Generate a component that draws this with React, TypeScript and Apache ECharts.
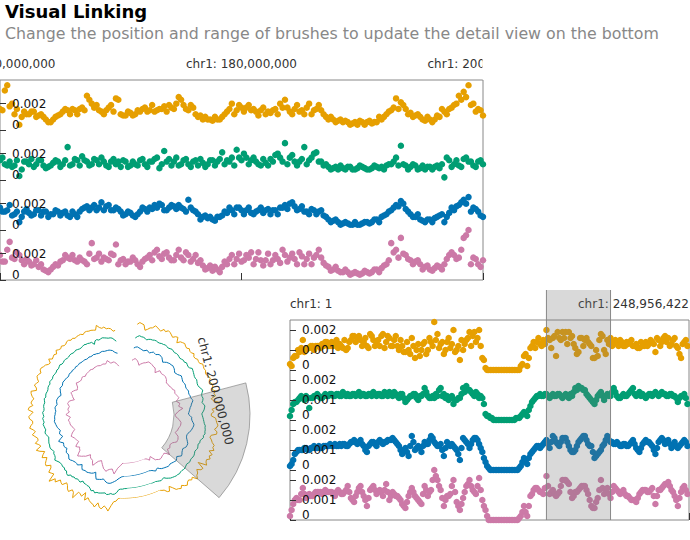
import React, { useEffect, useRef } from "react";
import * as echarts from "echarts";

const CHR1_LENGTH = 248956422;
const COLORS = ["#E69F00", "#009E73", "#0072B2", "#CC79A7"];
const VALUE_UNIT = 1e-4; // track values below are written in units of 1e-4

// zoomed view (top): chr1 160-200 Mb, 0.4 Mb bins (+ the points half a bin later)
const ZOOM_START = 160000000;
const ZOOM_END = 200000000;
const ZOOM_BIN = 400000;
const ZOOM_TICKS = [160000000, 180000000, 200000000];
const ZOOM_ORANGE = [
  16, 30, 18, 12, 4, 14, 12, 14, 11, 10, 6, 8, 11, 14, 15, 16, 12, 17, 26, 20,
  19, 14, 15, 19, 24, 12, 11, 13, 12, 14, 17, 15, 14, 16, 18, 19, 16, 25, 19, 15,
  17, 10, 8, 8, 7, 8, 10, 14, 20, 15, 17, 17, 15, 14, 15, 12, 13, 16, 20, 23,
  14, 16, 14, 12, 20, 15, 19, 12, 8, 8, 7, 6, 6, 5, 4, 6, 6, 5, 6, 8,
  12, 15, 24, 21, 16, 13, 11, 10, 7, 8, 8, 10, 14, 16, 19, 26, 29, 34, 20, 16, 11,
];
const ZOOM_ORANGE_MID = [
  15, 34, 20, 16, 10, 12, 14, 10, 12, 8, 6, 10, 12, 16, 12, 15, 16, 15, 23, 17,
  15, 12, 17, 14, 23, 11, 14, 11, 15, 16, 14, 19, 15, 16, 14, 17, 20, 23, 16, 19,
  12, 11, 10, 8, 10, 8, 12, 16, 12, 19, 14, 19, 16, 11, 17, 14, 15, 12, 17, 17,
  12, 19, 15, 17, 12, 16, 15, 10, 10, 6, 8, 7, 4, 6, 7, 4, 7, 6, 10, 10,
  14, 17, 16, 19, 12, 10, 12, 8, 10, 6, 11, 16, 12, 17, 20, 23, 25, 19, 14, 15,
];
const ZOOM_GREEN = [
  15, 12, 14, 11, 3, 14, 12, 10, 15, 11, 10, 13, 14, 12, 25, 12, 15, 18, 14, 12,
  15, 17, 11, 14, 12, 10, 14, 11, 12, 15, 12, 14, 16, 9, 22, 16, 14, 11, 15, 12,
  14, 11, 13, 12, 15, 14, 21, 15, 17, 23, 15, 17, 15, 14, 11, 13, 16, 19, 17, 28,
  17, 14, 14, 25, 15, 20, 14, 11, 10, 9, 8, 9, 10, 8, 9, 10, 8, 9, 10, 10,
  11, 12, 17, 26, 11, 10, 11, 9, 8, 10, 10, 9, 2, 15, 12, 11, 16, 14, 11, 14, 12,
];
const ZOOM_GREEN_MID = [
  17, 11, 10, 15, 8, 14, 16, 12, 15, 9, 11, 15, 10, 15, 11, 16, 11, 15, 11, 16,
  12, 14, 10, 16, 14, 15, 10, 14, 11, 16, 10, 14, 17, 12, 14, 11, 17, 12, 16, 10,
  15, 16, 10, 15, 11, 16, 12, 14, 11, 17, 20, 12, 17, 12, 16, 11, 14, 20, 14, 12,
  19, 11, 16, 12, 17, 21, 14, 12, 8, 10, 11, 8, 10, 8, 11, 9, 8, 11, 9, 8,
  12, 14, 11, 12, 8, 12, 8, 11, 10, 8, 11, 12, 17, 10, 15, 10, 17, 14, 10, 15,
];
const ZOOM_BLUE = [
  17, 14, 19, 12, 6, 14, 13, 12, 15, 14, 10, 12, 14, 13, 11, 14, 10, 16, 18, 17,
  15, 21, 18, 15, 17, 14, 12, 13, 10, 14, 16, 17, 19, 20, 15, 17, 18, 19, 16, 23,
  15, 12, 10, 9, 8, 10, 11, 13, 15, 17, 15, 15, 13, 14, 17, 15, 12, 15, 17, 19,
  20, 18, 16, 14, 12, 15, 14, 11, 8, 7, 6, 5, 5, 4, 4, 5, 6, 6, 8, 10,
  12, 15, 19, 22, 16, 12, 10, 8, 6, 8, 9, 11, 6, 13, 15, 19, 23, 25, 17, 14, 10,
];
const ZOOM_BLUE_MID = [
  14, 15, 11, 14, 10, 16, 11, 15, 11, 14, 12, 15, 11, 14, 10, 12, 14, 17, 15, 19,
  17, 15, 19, 15, 16, 11, 14, 11, 12, 17, 14, 16, 17, 19, 15, 19, 16, 17, 14, 17,
  14, 8, 11, 10, 7, 10, 14, 17, 12, 17, 12, 17, 12, 15, 13, 16, 15, 12, 17, 16,
  21, 15, 18, 14, 16, 12, 15, 10, 6, 8, 4, 6, 4, 6, 4, 6, 5, 8, 6, 11,
  14, 17, 18, 20, 14, 10, 12, 7, 8, 6, 10, 12, 10, 17, 18, 21, 20, 14, 16, 11,
];
const ZOOM_PINK = [
  19, 14, 29, 16, 19, 12, 14, 12, 10, 8, 6, 10, 11, 15, 17, 19, 14, 15, 12, 28,
  17, 14, 16, 20, 27, 15, 12, 14, 15, 10, 16, 19, 21, 18, 20, 17, 15, 23, 15, 19,
  16, 13, 11, 9, 7, 8, 10, 12, 19, 16, 14, 19, 21, 16, 15, 15, 12, 19, 13, 19,
  17, 16, 21, 12, 20, 17, 23, 13, 10, 8, 7, 6, 6, 5, 5, 5, 6, 6, 8, 9,
  12, 28, 23, 32, 19, 15, 14, 12, 10, 8, 9, 10, 12, 19, 19, 17, 32, 38, 17, 12, 15,
];
const ZOOM_PINK_MID = [
  14, 23, 17, 21, 15, 16, 11, 15, 12, 7, 8, 12, 14, 19, 16, 15, 17, 14, 20, 16,
  20, 17, 15, 19, 12, 16, 14, 17, 12, 14, 17, 15, 23, 16, 21, 15, 19, 17, 21, 14,
  19, 15, 8, 11, 10, 6, 14, 16, 12, 20, 15, 17, 12, 21, 11, 20, 15, 16, 23, 14,
  20, 12, 18, 16, 12, 19, 17, 11, 7, 10, 6, 8, 4, 6, 4, 7, 5, 8, 6, 11,
  15, 21, 17, 20, 16, 12, 15, 8, 11, 7, 11, 8, 16, 21, 16, 23, 34, 12, 16, 10,
];

// whole chr1 (bottom view and circular view): 2 Mb bins (+ the points half a bin later)
const OVERVIEW_BIN = 2000000;
const OVERVIEW_ORANGE = [
  3, 6, 7, 9, 15, 10, 11, 12, 12, 12, 13, 14, 12, 14, 13, 11, 12, 15, 11, 15,
  17, 16, 15, 14, 12, 18, 15, 14, 12, 18, 14, 16, 12, 17, 10, 12, 9, 10, 16, 6,
  13, 10, 14, 10, 14, 24, 18, 13, 8, 14, 11, 20, 10, 5, 10, 15, 19, 17, 14, 20,
  6, 1, 0, 0, 0, 0, 0, 0, 0, 0, 0, 0, 2, 7, 2, 11, 14, 14, 13, 15,
  20, 15, 16, 7, 16, 19, 19, 19, 17, 11, 9, 16, 15, 14, 12, 6, 7, 18, 10, 15,
  16, 14, 13, 15, 12, 14, 14, 12, 13, 11, 12, 14, 13, 14, 9, 15, 14, 17, 16, 13,
  16, 11, 6, 14, 12,
];
const OVERVIEW_ORANGE_MID = [
  2, 7, 10, 11, 9, 11, 12, 10, 12, 11, 12, 14, 12, 12, 15, 13, 11, 10, 14, 17,
  14, 17, 12, 16, 11, 17, 12, 15, 17, 11, 17, 12, 15, 12, 15, 9, 14, 8, 12, 10,
  7, 13, 8, 16, 12, 15, 11, 14, 10, 16, 13, 9, 12, 15, 13, 16, 12, 19, 16, 12,
  5, 0, 0, 0, 0, 0, 0, 0, 0, 0, 0, 0, 3, 8, 6, 12, 11, 16, 12, 13,
  16, 11, 17, 19, 15, 16, 13, 16, 13, 8, 16, 12, 16, 13, 6, 10, 15, 17, 8, 13,
  12, 15, 12, 14, 12, 13, 15, 12, 11, 14, 12, 12, 15, 13, 16, 12, 16, 14, 12, 15,
  12, 8, 13, 15,
];
const OVERVIEW_GREEN = [
  2, 8, 9, 11, 11, 12, 6, 11, 12, 12, 11, 13, 12, 13, 12, 13, 12, 13, 13, 12,
  13, 13, 12, 13, 12, 13, 14, 12, 13, 12, 13, 14, 12, 13, 11, 13, 9, 11, 12, 13,
  10, 12, 16, 12, 11, 11, 12, 16, 13, 12, 11, 8, 10, 11, 16, 17, 15, 13, 14, 11,
  11, 3, 2, 1, 0, 0, 0, 0, 0, 0, 0, 1, 2, 4, 2, 7, 10, 12, 13, 12,
  13, 11, 13, 12, 13, 11, 13, 11, 12, 16, 17, 16, 15, 12, 10, 8, 12, 14, 10, 13,
  12, 16, 12, 11, 13, 12, 14, 16, 12, 14, 13, 11, 13, 12, 14, 12, 14, 13, 12, 13,
  12, 9, 12, 13, 8,
];
const OVERVIEW_GREEN_MID = [
  5, 9, 10, 12, 10, 11, 11, 12, 13, 11, 12, 12, 13, 12, 13, 12, 14, 12, 12, 13,
  12, 14, 13, 12, 13, 12, 13, 13, 12, 14, 12, 13, 14, 12, 13, 11, 10, 12, 13, 11,
  12, 13, 14, 11, 12, 13, 15, 12, 11, 10, 12, 10, 11, 13, 14, 15, 14, 12, 13, 12,
  8, 2, 1, 0, 0, 0, 0, 0, 0, 0, 1, 1, 3, 3, 5, 9, 11, 12, 12, 13,
  12, 12, 12, 13, 12, 12, 12, 13, 14, 15, 16, 15, 13, 11, 9, 10, 13, 12, 12, 12,
  14, 14, 11, 12, 12, 13, 15, 13, 13, 12, 12, 12, 13, 13, 13, 13, 13, 12, 13, 12,
  11, 11, 12, 11,
];
const OVERVIEW_BLUE = [
  2, 5, 9, 10, 10, 11, 10, 11, 11, 12, 11, 12, 12, 12, 13, 12, 12, 13, 12, 14,
  15, 13, 15, 12, 9, 13, 14, 12, 15, 13, 14, 15, 16, 14, 12, 8, 11, 7, 17, 10,
  12, 9, 14, 13, 17, 14, 12, 13, 7, 14, 12, 12, 10, 5, 16, 14, 11, 15, 16, 13,
  9, 4, 1, 0, 0, 0, 0, 0, 0, 0, 0, 0, 2, 6, 3, 8, 10, 12, 11, 13,
  15, 11, 17, 14, 12, 16, 16, 12, 9, 10, 14, 16, 17, 13, 12, 6, 8, 10, 13, 17,
  14, 13, 14, 12, 13, 12, 13, 15, 11, 9, 13, 15, 14, 12, 8, 14, 16, 13, 15, 11,
  14, 11, 13, 15, 12,
];
const OVERVIEW_BLUE_MID = [
  3, 8, 10, 10, 11, 10, 11, 12, 11, 11, 12, 12, 13, 12, 12, 13, 13, 12, 13, 14,
  14, 14, 13, 10, 12, 14, 13, 14, 14, 14, 15, 15, 15, 13, 10, 10, 9, 12, 14, 11,
  11, 12, 13, 15, 16, 13, 12, 10, 11, 13, 13, 11, 8, 11, 15, 13, 13, 16, 15, 11,
  6, 2, 0, 0, 0, 0, 0, 0, 0, 0, 0, 1, 4, 4, 6, 9, 11, 12, 12, 14,
  13, 14, 16, 13, 14, 16, 14, 10, 9, 12, 15, 17, 15, 12, 9, 7, 9, 12, 15, 15,
  14, 13, 13, 12, 13, 12, 14, 13, 10, 11, 14, 14, 13, 10, 11, 15, 15, 14, 13, 12,
  12, 12, 14, 14,
];
const OVERVIEW_PINK = [
  2, 8, 11, 10, 16, 11, 13, 12, 14, 14, 13, 15, 14, 14, 12, 15, 13, 14, 17, 11,
  9, 14, 17, 12, 7, 15, 17, 13, 15, 12, 18, 10, 14, 12, 11, 8, 6, 12, 16, 12,
  10, 8, 17, 12, 15, 25, 20, 15, 7, 12, 13, 20, 9, 5, 11, 17, 20, 15, 13, 21,
  10, 5, 0, 0, 0, 0, 0, 0, 0, 0, 0, 0, 2, 7, 2, 12, 15, 16, 14, 13,
  22, 13, 15, 12, 14, 20, 20, 18, 11, 14, 15, 17, 17, 13, 7, 6, 11, 20, 13, 16,
  11, 17, 15, 13, 15, 12, 11, 10, 9, 13, 15, 15, 14, 16, 8, 15, 16, 18, 19, 15,
  12, 7, 14, 17, 13,
];
const OVERVIEW_PINK_MID = [
  5, 10, 10, 13, 13, 12, 12, 13, 14, 14, 14, 14, 14, 13, 14, 14, 13, 15, 14, 10,
  12, 16, 14, 10, 11, 16, 15, 14, 14, 15, 14, 12, 13, 12, 10, 7, 9, 14, 14, 11,
  9, 13, 15, 14, 20, 22, 17, 11, 10, 12, 17, 14, 7, 8, 14, 18, 17, 14, 17, 15,
  7, 2, 0, 0, 0, 0, 0, 0, 0, 0, 0, 1, 4, 4, 7, 13, 16, 15, 14, 16,
  17, 14, 13, 13, 17, 20, 19, 14, 12, 14, 16, 17, 15, 10, 6, 9, 15, 16, 15, 13,
  14, 16, 14, 14, 13, 12, 10, 10, 11, 14, 15, 14, 15, 12, 12, 15, 17, 18, 17, 14,
  10, 11, 16, 15,
];

const BRUSH = [160000000, 200000000];
const BRUSH_LABEL = "chr1: 200,000,000";

const ZOOM_TRACKS = [
  [ZOOM_ORANGE, ZOOM_ORANGE_MID],
  [ZOOM_GREEN, ZOOM_GREEN_MID],
  [ZOOM_BLUE, ZOOM_BLUE_MID],
  [ZOOM_PINK, ZOOM_PINK_MID],
];
const OVERVIEW_TRACKS = [
  [OVERVIEW_ORANGE, OVERVIEW_ORANGE_MID],
  [OVERVIEW_GREEN, OVERVIEW_GREEN_MID],
  [OVERVIEW_BLUE, OVERVIEW_BLUE_MID],
  [OVERVIEW_PINK, OVERVIEW_PINK_MID],
];

const chrLabel = (v: number) => `chr1: ${Math.round(v).toLocaleString("en-US")}`;

// [position, value] pairs of a track, bins and half-bins in genomic order
const trackPoints = (track: number[][], start: number, bin: number) => {
  const [values, mids] = track;
  const pts: number[][] = [];
  values.forEach((v, i) => {
    pts.push([start + i * bin, v * VALUE_UNIT]);
    if (i < mids.length) pts.push([start + (i + 0.5) * bin, mids[i] * VALUE_UNIT]);
  });
  return pts;
};

const App: React.FC = () => {
  const chartRef = useRef<HTMLDivElement>(null);

  useEffect(() => {
    if (!chartRef.current) return;
    const chart = echarts.init(chartRef.current, undefined, { renderer: "svg" });

    const grid: any[] = [];
    const xAxis: any[] = [];
    const yAxis: any[] = [];
    const series: any[] = [];

    const addLinearView = (cfg: {
      left: number;
      top: number;
      width: number;
      trackHeight: number;
      min: number;
      max: number;
      ticks: number[];
      edgeAlign: boolean;
      yMax: number;
      yTicks: number[];
      tracks: number[][][];
      start: number;
      bin: number;
    }) => {
      // frame + genomic axis
      const frame = grid.length;
      grid.push({
        left: cfg.left,
        top: cfg.top,
        width: cfg.width,
        height: cfg.trackHeight * 4,
        outerBoundsMode: "none",
        show: true,
        borderColor: "#888",
        borderWidth: 1,
        backgroundColor: "transparent",
      });
      xAxis.push({
        gridIndex: frame,
        type: "value",
        position: "top",
        min: cfg.min,
        max: cfg.max,
        axisLine: { show: false },
        axisTick: { show: true, length: 7, customValues: cfg.ticks, lineStyle: { color: "#333" } },
        axisLabel: {
          customValues: cfg.ticks,
          formatter: chrLabel,
          margin: 10,
          fontSize: 12,
          color: "#333",
          showMinLabel: true,
          showMaxLabel: true,
          ...(cfg.edgeAlign ? { alignMinLabel: "left", alignMaxLabel: "right" } : {}),
        },
        splitLine: { show: false },
      });
      yAxis.push({ gridIndex: frame, type: "value", min: 0, max: 1, show: false });

      cfg.tracks.forEach((track, k) => {
        const g = grid.length;
        grid.push({
          left: cfg.left,
          top: cfg.top + k * cfg.trackHeight,
          width: cfg.width,
          height: cfg.trackHeight,
          outerBoundsMode: "none",
        });
        xAxis.push({ gridIndex: g, type: "value", min: cfg.min, max: cfg.max, show: false });
        yAxis.push({
          gridIndex: g,
          type: "value",
          min: 0,
          max: cfg.yMax,
          z: 10,
          axisLine: { show: false },
          axisTick: {
            show: true,
            inside: true,
            length: 6,
            customValues: cfg.yTicks,
            lineStyle: { color: "#333" },
          },
          axisLabel: {
            inside: true,
            margin: 12,
            customValues: cfg.yTicks,
            fontSize: 12,
            color: "#111",
            formatter: (v: number) => (v === 0 ? "{zero|0}" : String(v)),
            rich: { zero: { fontSize: 12, color: "#111", padding: [0, 0, 10, 0] } },
          },
          splitLine: { show: false },
        });
        series.push({
          type: "scatter",
          xAxisIndex: g,
          yAxisIndex: g,
          silent: true,
          symbolSize: 6.5,
          itemStyle: { color: COLORS[k], opacity: 1 },
          data: trackPoints(track, cfg.start, cfg.bin),
        });
      });
      return frame;
    };

    addLinearView({
      left: 0,
      top: 80,
      width: 483,
      trackHeight: 50,
      min: ZOOM_START,
      max: ZOOM_END,
      ticks: ZOOM_TICKS,
      edgeAlign: false,
      yMax: 0.0038,
      yTicks: [0, 0.002],
      tracks: ZOOM_TRACKS,
      start: ZOOM_START,
      bin: ZOOM_BIN,
    });

    const overviewFrame = addLinearView({
      left: 290,
      top: 320,
      width: 399,
      trackHeight: 50,
      min: 1,
      max: CHR1_LENGTH,
      ticks: [1, CHR1_LENGTH],
      edgeAlign: true,
      yMax: 0.0025,
      yTicks: [0, 0.001, 0.002],
      tracks: OVERVIEW_TRACKS,
      start: 1,
      bin: OVERVIEW_BIN,
    });

    // brush on the overview
    series.push({
      type: "custom",
      xAxisIndex: overviewFrame,
      yAxisIndex: overviewFrame,
      silent: true,
      z: 5,
      data: [[BRUSH[0], BRUSH[1]]],
      renderItem: (params: any, api: any) => {
        const cs = params.coordSys;
        const s = api.coord([api.value(0), 0]);
        const e = api.coord([api.value(1), 0]);
        const top = cs.y - 30;
        const bottom = cs.y + cs.height;
        return {
          type: "group",
          children: [
            {
              type: "rect",
              shape: { x: s[0], y: top, width: e[0] - s[0], height: bottom - top },
              style: { fill: "rgba(119,119,119,0.28)" },
            },
            {
              type: "line",
              shape: { x1: s[0], y1: top, x2: s[0], y2: bottom },
              style: { stroke: "#888", lineWidth: 1 },
            },
            {
              type: "line",
              shape: { x1: e[0], y1: top, x2: e[0], y2: bottom },
              style: { stroke: "#888", lineWidth: 1 },
            },
          ],
        };
      },
    });

    // circular view
    const center = [124, 415];
    const ringRadii = [
      [83, 101],
      [73, 88],
      [61, 75],
      [48, 62],
    ];
    const angleMax = (CHR1_LENGTH * 360) / 347;
    const polar: any[] = [];
    const angleAxis: any[] = [];
    const radiusAxis: any[] = [];
    ringRadii.forEach((r, k) => {
      polar.push({ center, radius: r });
      angleAxis.push({
        polarIndex: k,
        type: "value",
        min: 0,
        max: angleMax,
        startAngle: 96,
        clockwise: false,
        show: false,
      });
      radiusAxis.push({ polarIndex: k, type: "value", min: 0, max: 0.0025, show: false });
      series.push({
        type: "line",
        coordinateSystem: "polar",
        polarIndex: k,
        silent: true,
        showSymbol: false,
        lineStyle: { width: 1, color: COLORS[k] },
        data: trackPoints(OVERVIEW_TRACKS[k], 1, OVERVIEW_BIN).map(([p, v]) => [v, p]),
      });
    });
    const brushPolar = polar.length;
    polar.push({ center, radius: [50, 126] });
    angleAxis.push({
      polarIndex: brushPolar,
      type: "value",
      min: 0,
      max: angleMax,
      startAngle: 96,
      clockwise: false,
      show: false,
    });
    radiusAxis.push({ polarIndex: brushPolar, type: "value", min: 0, max: 1, show: false });
    series.push({
      type: "custom",
      coordinateSystem: "polar",
      polarIndex: brushPolar,
      silent: true,
      z: 5,
      data: [[1, BRUSH[0], BRUSH[1]]],
      renderItem: (params: any, api: any) => {
        const cs = params.coordSys;
        const p0 = api.coord([1, api.value(1)]);
        const p1 = api.coord([1, api.value(2)]);
        const a0 = Math.atan2(p0[1] - cs.cy, p0[0] - cs.cx);
        const a1 = Math.atan2(p1[1] - cs.cy, p1[0] - cs.cx);
        const labelR = 94.6;
        return {
          type: "group",
          children: [
            {
              type: "sector",
              shape: { cx: cs.cx, cy: cs.cy, r0: cs.r0, r: cs.r, startAngle: a1, endAngle: a0, clockwise: true },
              style: { fill: "rgba(119,119,119,0.28)", stroke: "rgba(119,119,119,0.6)", lineWidth: 1 },
            },
            {
              type: "text",
              x: cs.cx + labelR * Math.cos(a1),
              y: cs.cy + labelR * Math.sin(a1),
              rotation: -(a1 + Math.PI / 2),
              style: {
                text: BRUSH_LABEL,
                fill: "#333",
                font: '12px "DejaVu Sans"',
                align: "center",
                verticalAlign: "middle",
              },
            },
          ],
        };
      },
    });

    const option: any = {
      animation: false,
      textStyle: { fontFamily: "DejaVu Sans" },
      grid,
      xAxis,
      yAxis,
      polar,
      angleAxis,
      radiusAxis,
      series,
      graphic: [
        {
          type: "text",
          x: 5,
          y: 11,
          style: {
            text: "Visual Linking",
            font: 'bold 18px "DejaVu Sans"',
            fill: "#000",
            verticalAlign: "middle",
          },
        },
        {
          type: "text",
          x: 5,
          y: 33,
          style: {
            text: "Change the position and range of brushes to update the detail view on the bottom",
            font: '15.8px "DejaVu Sans"',
            fill: "#888",
            verticalAlign: "middle",
          },
        },
        {
          // the zoomed view clips its axis labels at its right edge
          type: "rect",
          z: 100,
          shape: { x: 482.5, y: 45, width: 210, height: 34.5 },
          style: { fill: "#fff" },
        },
      ],
    };

    chart.setOption(option);

    return () => {
      chart.dispose();
    };
  }, []);

  return (
    <div
      ref={chartRef}
      style={{ position: "absolute", left: 0, top: 0, width: "690px", height: "540px" }}
    />
  );
};

export default App;
